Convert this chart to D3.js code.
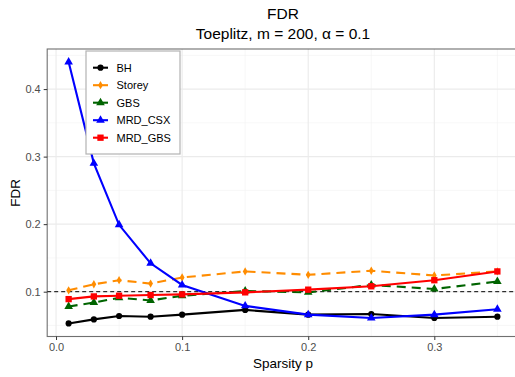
<!DOCTYPE html>
<html><head><meta charset="utf-8">
<script src="https://cdn.jsdelivr.net/npm/d3@7"></script>
<style>body{margin:0;background:#fff}svg{display:block;font-family:"Liberation Sans",Arial,sans-serif}</style>
</head><body>
<script>
const sparsity = [0.01, 0.03, 0.05, 0.075, 0.1, 0.15, 0.2, 0.25, 0.3, 0.35];
const BH      = [0.053, 0.059, 0.064, 0.063, 0.066, 0.073, 0.066, 0.067, 0.061, 0.063];
const Storey  = [0.102, 0.111, 0.117, 0.112, 0.121, 0.130, 0.125, 0.131, 0.124, 0.130];
const GBS     = [0.078, 0.084, 0.091, 0.087, 0.094, 0.101, 0.099, 0.110, 0.104, 0.115];
const MRD_CSX = [0.440, 0.290, 0.199, 0.142, 0.110, 0.079, 0.066, 0.061, 0.066, 0.074];
const MRD_GBS = [0.089, 0.093, 0.094, 0.095, 0.096, 0.099, 0.103, 0.108, 0.117, 0.130];
const seriesNames = ["BH", "Storey", "GBS", "MRD_CSX", "MRD_GBS"];
const xTicks = [0.0, 0.1, 0.2, 0.3];
const yTicks = [0.1, 0.2, 0.3, 0.4];
const alphaLevel = 0.1;

const series = [
  {name: "BH", values: BH, color: "#000000", dash: null, shape: "circle"},
  {name: "Storey", values: Storey, color: "#FF8C00", dash: "9,6", shape: "diamond"},
  {name: "GBS", values: GBS, color: "#006400", dash: "9,6", shape: "triangle"},
  {name: "MRD_CSX", values: MRD_CSX, color: "#0000FF", dash: null, shape: "triangle"},
  {name: "MRD_GBS", values: MRD_GBS, color: "#FF0000", dash: null, shape: "square"}
];

const W = 515, H = 377;
const svg = d3.select("body").append("svg").attr("width", W).attr("height", H);

const xmin = d3.min(sparsity), xmax = d3.max(sparsity);
const xe = (xmax - xmin) * 0.05;
const all = [].concat(BH, Storey, GBS, MRD_CSX, MRD_GBS);
const ymin = d3.min(all), ymax = d3.max(all);
const ye = (ymax - ymin) * 0.05;

const x = d3.scaleLinear().domain([xmin - xe, xmax + xe]).range([47.2, 518.8]);
const y = d3.scaleLinear().domain([ymin - ye, ymax + ye]).range([336.5, 49]);
const L = x.range()[0], R = x.range()[1], T = y.range()[1], B = y.range()[0];

// grid
const g = svg.append("g");
const xMinor = [0.05, 0.15, 0.25, 0.35];
const yMinor = [0.05, 0.15, 0.25, 0.35, 0.45];
g.selectAll(".xm").data(xMinor).join("line").attr("x1", d => x(d)).attr("x2", d => x(d)).attr("y1", T).attr("y2", B).attr("stroke", "#F2F2F2").attr("stroke-width", 0.6);
g.selectAll(".ym").data(yMinor).join("line").attr("y1", d => y(d)).attr("y2", d => y(d)).attr("x1", L).attr("x2", R).attr("stroke", "#F2F2F2").attr("stroke-width", 0.6);
g.selectAll(".xg").data(xTicks).join("line").attr("x1", d => x(d)).attr("x2", d => x(d)).attr("y1", T).attr("y2", B).attr("stroke", "#EBEBEB").attr("stroke-width", 1.1);
g.selectAll(".yg").data(yTicks).join("line").attr("y1", d => y(d)).attr("y2", d => y(d)).attr("x1", L).attr("x2", R).attr("stroke", "#EBEBEB").attr("stroke-width", 1.1);

// reference line
svg.append("line").attr("x1", L).attr("x2", R).attr("y1", y(alphaLevel)).attr("y2", y(alphaLevel))
  .attr("stroke", "#000").attr("stroke-width", 1).attr("stroke-dasharray", "4,3");

function symbol(shape) {
  if (shape === "circle") return d3.symbol(d3.symbolCircle, 30)();
  if (shape === "triangle") return d3.symbol(d3.symbolTriangle, 32)();
  if (shape === "square") return d3.symbol(d3.symbolSquare, 40)();
  return d3.symbol(d3.symbolDiamond, 20)();
}

const line = d3.line().x(d => x(d[0])).y(d => y(d[1]));
series.forEach(s => {
  const pts = sparsity.map((p, i) => [p, s.values[i]]);
  svg.append("path").datum(pts).attr("d", line).attr("fill", "none")
    .attr("stroke", s.color).attr("stroke-width", 2.1)
    .attr("stroke-dasharray", s.dash);
  svg.append("g").selectAll("path").data(pts).join("path")
    .attr("transform", d => `translate(${x(d[0])},${y(d[1])})`)
    .attr("d", symbol(s.shape)).attr("fill", s.color);
});

// panel border
svg.append("rect").attr("x", L).attr("y", T).attr("width", R - L).attr("height", B - T)
  .attr("fill", "none").attr("stroke", "#333333").attr("stroke-width", 1.1).attr("stroke-opacity", 0.7);

// axes
const xa = svg.append("g").attr("transform", `translate(0,${B})`)
  .call(d3.axisBottom(x).tickValues(xTicks).tickFormat(d3.format(".1f")).tickSize(3.5).tickPadding(3));
const ya = svg.append("g").attr("transform", `translate(${L},0)`)
  .call(d3.axisLeft(y).tickValues(yTicks).tickFormat(d3.format(".1f")).tickSize(3.5).tickPadding(3));
[xa, ya].forEach(a => {
  a.select(".domain").remove();
  a.selectAll(".tick line").attr("stroke", "#333333");
  a.selectAll(".tick text").attr("fill", "#4D4D4D").style("font-size", "11px").style("font-family", "Liberation Sans, Arial, sans-serif");
});

// titles
const cx = (L + R) / 2;
svg.append("text").attr("x", cx).attr("y", 19).attr("text-anchor", "middle").style("font-size", "15.5px").text("FDR");
svg.append("text").attr("x", cx).attr("y", 39).attr("text-anchor", "middle").style("font-size", "15.5px").text("Toeplitz, m = 200, α = 0.1");
svg.append("text").attr("x", cx).attr("y", 368).attr("text-anchor", "middle").style("font-size", "13.5px").text("Sparsity p");
svg.append("text").attr("transform", `translate(20,${(T + B) / 2}) rotate(-90)`).attr("text-anchor", "middle").style("font-size", "13.5px").text("FDR");

// legend
const lg = svg.append("g");
lg.append("rect").attr("x", 86).attr("y", 51).attr("width", 94).attr("height", 103)
  .attr("fill", "#fff").attr("stroke", "#B3B3B3").attr("stroke-width", 1.2);
series.forEach((s, i) => {
  const yy = 67.7 + i * 17.5;
  lg.append("line").attr("x1", 93).attr("x2", 108).attr("y1", yy).attr("y2", yy)
    .attr("stroke", s.color).attr("stroke-width", 2.1);
  lg.append("path").attr("transform", `translate(100.5,${yy})`).attr("d", symbol(s.shape)).attr("fill", s.color);
  lg.append("text").attr("x", 116.5).attr("y", yy + 4).style("font-size", "11px").text(s.name);
});
</script>
</body></html>
